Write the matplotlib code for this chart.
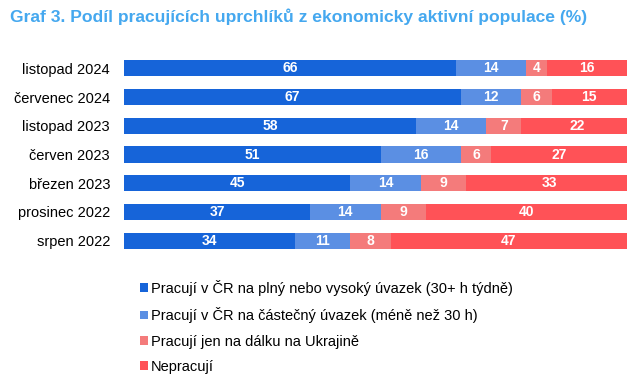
import matplotlib.pyplot as plt
import numpy as np
from matplotlib.patches import Patch

plt.rcParams['font.family'] = ['Liberation Sans', 'DejaVu Sans']

# %% data
periods = ['listopad 2024', 'červenec 2024', 'listopad 2023', 'červen 2023',
           'březen 2023', 'prosinec 2022', 'srpen 2022']
full_time = [66, 67, 58, 51, 45, 37, 34]
part_time = [14, 12, 14, 16, 14, 14, 11]
remote_ua = [4, 6, 7, 6, 9, 9, 8]
not_working = [16, 15, 22, 27, 33, 40, 47]

series_names = ['Pracují v ČR na plný nebo vysoký úvazek (30+ h týdně)',
                'Pracují v ČR na částečný úvazek (méně než 30 h)',
                'Pracují jen na dálku na Ukrajině',
                'Nepracují']
colors = ['#1664d9', '#5b8fe3', '#f47b7b', '#ff5257']

# %% plot
fig = plt.figure(figsize=(6.41, 3.85), dpi=100)
ax = fig.add_axes([124 / 641, 1 - 255 / 385, 503 / 641, 201 / 385])

y = np.arange(len(periods))
left = np.zeros(len(periods))
for vals, col in zip([full_time, part_time, remote_ua, not_working], colors):
    vals = np.array(vals, dtype=float)
    ax.barh(y, vals, left=left, height=0.56, color=col, edgecolor='none')
    for yi, l, v in zip(y, left, vals):
        ax.text(l + v / 2, yi, f'{int(v)}', ha='center', va='center',
                color='white', fontsize=10, fontweight='bold')
    left += vals

ax.set_xlim(0, 100)
ax.set_ylim(len(periods) - 0.5, -0.5)
ax.set_yticks(y)
ax.set_yticklabels(periods, fontsize=10.5)
ax.tick_params(axis='y', length=0, pad=10)
ax.set_xticks([])
for s in ax.spines.values():
    s.set_visible(False)

fig.text(10 / 641, 1 - 17 / 385, 'Graf 3. Podíl pracujících uprchlíků z ekonomicky aktivní populace (%)',
         color='#45a8ef', fontsize=12.6, fontweight='bold', va='center', ha='left')

handles = [Patch(facecolor=c, edgecolor='none') for c in colors]
fig.legend(handles, series_names, loc='upper left',
           bbox_to_anchor=(134 / 641, 1 - 274 / 385), frameon=False,
           fontsize=10.5, handlelength=0.55, handleheight=0.55, handletextpad=0.2,
           labelspacing=0.78, borderaxespad=0)

fig.savefig('out.png', dpi=100)
